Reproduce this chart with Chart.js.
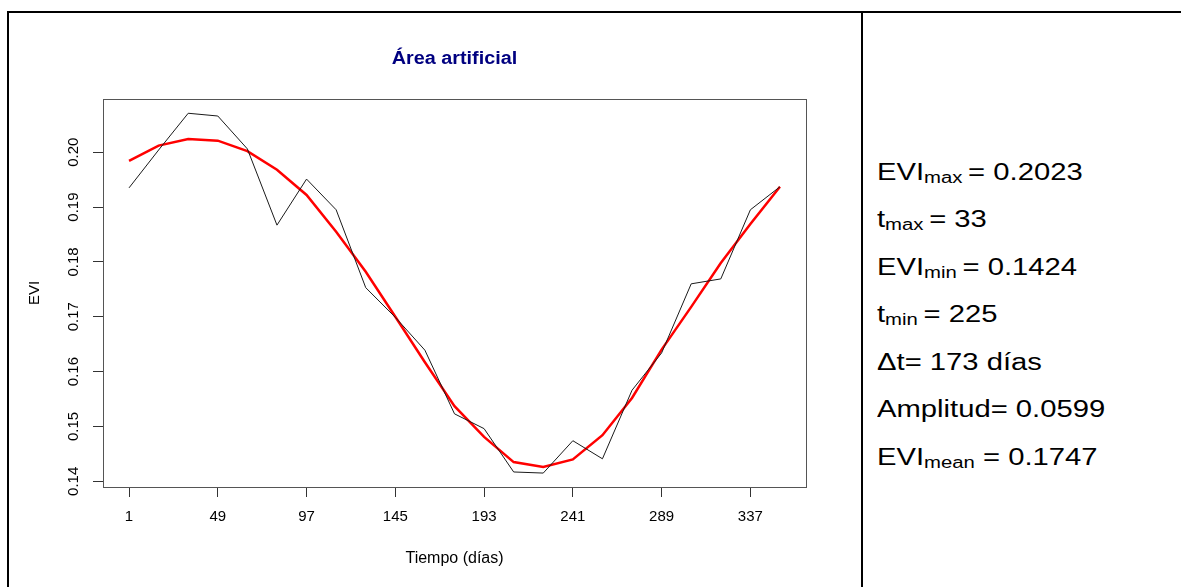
<!DOCTYPE html>
<html>
<head>
<meta charset="utf-8">
<script src="https://cdn.jsdelivr.net/npm/chart.js@4/dist/chart.umd.min.js"></script>
<style>
    body { margin: 0; background: #fff; width: 1181px; height: 587px; overflow: hidden; position: relative; font-family: "Liberation Sans", Arial, sans-serif; }
    #wrap { position: absolute; left: 0; top: 0; width: 861px; height: 587px; }
    .ln { position: absolute; background: #000; }
    .stat { position: absolute; left: 877px; font-size: 23px; color: #000; white-space: nowrap; line-height: 28px; transform: scaleX(1.27); transform-origin: left center; }
    .stat sub { font-size: 16px; vertical-align: -3px; }
</style>
</head>
<body>
<div id="wrap"><canvas id="myChart" width="861" height="587"></canvas></div>
<div class="ln" style="left:7px; top:11px; width:1174px; height:2px;"></div>
<div class="ln" style="left:7px; top:11px; width:2px; height:576px;"></div>
<div class="ln" style="left:861px; top:11px; width:2px; height:576px;"></div>

<div class="stat" style="top:158px;">EVI<sub>max </sub>= 0.2023</div>
<div class="stat" style="top:205px;">t<sub>max </sub>= 33</div>
<div class="stat" style="top:253px;">EVI<sub>min </sub>= 0.1424</div>
<div class="stat" style="top:300px;">t<sub>min </sub>= 225</div>
<div class="stat" style="top:348px;">&Delta;t= 173 días</div>
<div class="stat" style="top:395px;">Amplitud= 0.0599</div>
<div class="stat" style="top:443px;">EVI<sub>mean</sub> = 0.1747</div>

<script>
const dias = [1, 17, 33, 49, 65, 81, 97, 113, 129, 145, 161, 177, 193, 209, 225, 241, 257, 273, 289, 305, 321, 337, 353];
const eviOriginal = [0.1935, 0.2004, 0.2071, 0.2066, 0.2006, 0.1867, 0.1951, 0.1895, 0.1753, 0.1699, 0.1639, 0.1523, 0.1496, 0.1417, 0.1415, 0.1474, 0.1441, 0.1566, 0.1634, 0.1760, 0.1769, 0.1895, 0.1937];
const eviSuavizado = [0.1984, 0.2012, 0.2024, 0.2021, 0.2002, 0.1968, 0.1922, 0.1855, 0.1782, 0.1700, 0.1617, 0.1537, 0.1481, 0.1435, 0.1426, 0.1440, 0.1484, 0.1552, 0.1640, 0.1718, 0.1798, 0.1869, 0.1937];
const xTicks = [1, 49, 97, 145, 193, 241, 289, 337];
const yTicks = [0.14, 0.15, 0.16, 0.17, 0.18, 0.19, 0.20];

function puntos(ys) {
    return dias.map((d, i) => ({ x: d, y: ys[i] }));
}

const estiloR = {
    id: 'estiloR',
    afterDraw(chart) {
        const ctx = chart.ctx;
        const a = chart.chartArea;
        ctx.save();
        // caja
        ctx.strokeStyle = '#555';
        ctx.lineWidth = 1;
        ctx.strokeRect(a.left + 0.5, a.top + 0.5, a.right - a.left, a.bottom - a.top);
        // titulo (un poco ensanchado, como en el original)
        ctx.save();
        ctx.fillStyle = '#000080';
        ctx.font = 'bold 18px "Liberation Sans", Arial, sans-serif';
        ctx.textAlign = 'center';
        ctx.textBaseline = 'middle';
        ctx.translate((a.left + a.right) / 2, 59);
        ctx.scale(1.1, 1);
        ctx.fillText('Área artificial', 0, 0);
        ctx.restore();
        // etiquetas eje y giradas
        const sy = chart.scales.y;
        ctx.fillStyle = '#000';
        ctx.textAlign = 'center';
        ctx.textBaseline = 'middle';
        ctx.font = '15px "Liberation Sans", Arial, sans-serif';
        yTicks.forEach(v => {
            const py = sy.getPixelForValue(v);
            ctx.save();
            ctx.translate(74, py);
            ctx.rotate(-Math.PI / 2);
            ctx.fillText(v.toFixed(2), 0, 0);
            ctx.restore();
        });
        ctx.restore();
    }
};

const ctx = document.getElementById('myChart').getContext('2d');
new Chart(ctx, {
    type: 'line',
    data: {
        datasets: [{
            data: puntos(eviOriginal),
            borderColor: '#1a1a1a',
            borderWidth: 1,
            pointRadius: 0,
            tension: 0
        }, {
            data: puntos(eviSuavizado),
            borderColor: '#ff0000',
            borderWidth: 2.5,
            pointRadius: 0,
            tension: 0
        }]
    },
    options: {
        responsive: false,
        animation: false,
        layout: { padding: { top: 99, right: 55, left: 0, bottom: 0 } },
        plugins: { legend: { display: false }, tooltip: { enabled: false } },
        scales: {
            x: {
                type: 'linear',
                min: -13.08,
                max: 367.08,
                afterBuildTicks: (s) => { s.ticks = xTicks.map(v => ({ value: v })); },
                afterFit: (s) => { s.height = 100; },
                grid: { drawOnChartArea: false, drawTicks: true, tickLength: 10, color: '#333' },
                border: { display: false },
                ticks: {
                    color: '#000',
                    padding: 11,
                    maxRotation: 0,
                    font: { family: '"Liberation Sans", Arial, sans-serif', size: 15 }
                },
                title: {
                    display: true,
                    text: 'Tiempo (días)',
                    color: '#000',
                    padding: { top: 0, bottom: 19 },
                    font: { family: '"Liberation Sans", Arial, sans-serif', size: 16 }
                }
            },
            y: {
                min: 0.13896,
                max: 0.2097,
                afterBuildTicks: (s) => { s.ticks = yTicks.map(v => ({ value: v })); },
                afterFit: (s) => { s.width = 103; },
                grid: { drawOnChartArea: false, drawTicks: true, tickLength: 10, color: '#333' },
                border: { display: false },
                ticks: {
                    color: 'rgba(0,0,0,0)',
                    callback: (v) => Number(v).toFixed(2),
                    font: { family: '"Liberation Sans", Arial, sans-serif', size: 15 }
                },
                title: {
                    display: true,
                    text: 'EVI',
                    color: '#000',
                    padding: { top: 26, bottom: 0 },
                    font: { family: '"Liberation Sans", Arial, sans-serif', size: 15 }
                }
            }
        }
    },
    plugins: [estiloR]
});
</script>
</body>
</html>
